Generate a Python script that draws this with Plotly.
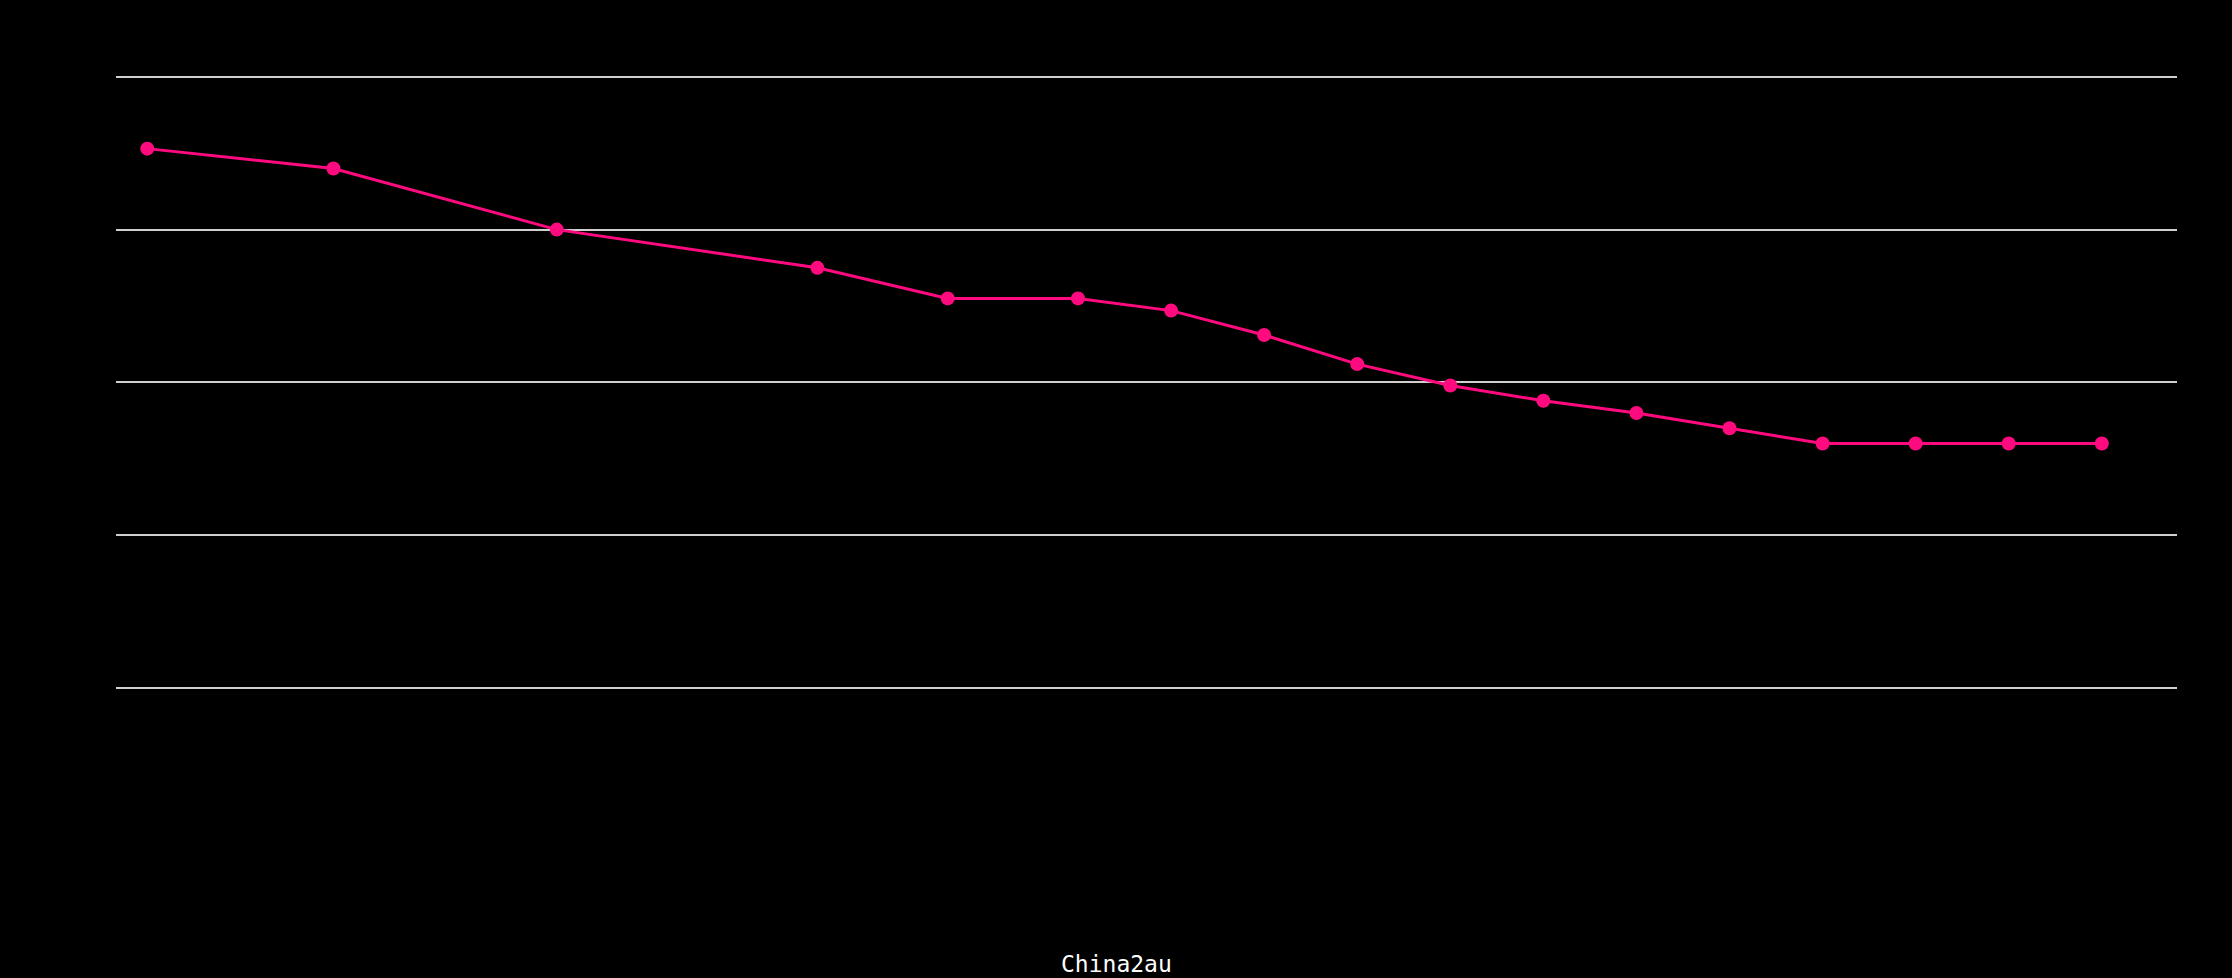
import plotly.graph_objects as go

# Data (x in years-like units, y in gridline units; axis labels hidden in reference)
x_vals = [2001, 2003, 2005.4, 2008.2, 2009.6, 2011, 2012, 2013, 2014, 2015,
          2016, 2017, 2018, 2019, 2020, 2021, 2022]
y_vals = [3.53, 3.40, 3.00, 2.75, 2.55, 2.55, 2.47, 2.31, 2.12, 1.98,
          1.88, 1.80, 1.70, 1.60, 1.60, 1.60, 1.60]
x_title = "China2au"

W, H = 2232, 978
top, bottom = 60, 720
left, right = 116, 2177

fig = go.Figure()
fig.add_trace(go.Scatter(
    x=x_vals, y=y_vals, mode="lines+markers",
    line=dict(color="#FF0A7F", width=3),
    marker=dict(color="#FF0A7F", size=14),
    showlegend=False,
))

fig.update_layout(
    width=W, height=H,
    paper_bgcolor="black", plot_bgcolor="black",
    margin=dict(l=left, r=W - right, t=top, b=H - bottom, autoexpand=False),
    font=dict(family="DejaVu Sans Mono, monospace", color="white", size=22),
    xaxis=dict(range=[2000.664, 2022.808], showgrid=False, zeroline=False,
               showticklabels=False, showline=False, ticks=""),
    yaxis=dict(range=[-0.209, 4.110], dtick=1, tick0=0, showgrid=True,
               gridcolor="#cfcfcf", gridwidth=2, zeroline=False,
               showticklabels=False, showline=False, ticks=""),
    annotations=[dict(text=x_title, xref="paper", yref="paper",
                      x=(W / 2 - left) / (right - left), y=(bottom - 964) / (bottom - top),
                      xanchor="center", yanchor="middle", showarrow=False,
                      font=dict(family="DejaVu Sans Mono, monospace", size=23, color="white"))],
)

fig.write_html(
    "out.html",
    config={"displayModeBar": False},
    post_script="document.body.style.margin='0';document.body.style.background='black';document.body.style.overflow='hidden';",
)
